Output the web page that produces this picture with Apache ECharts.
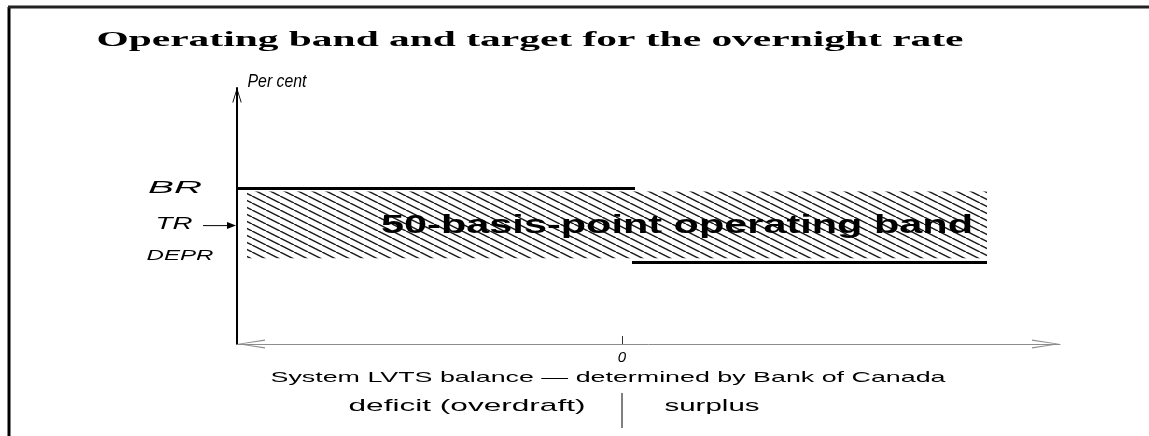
<!DOCTYPE html>
<html>
<head>
<meta charset="utf-8">
<script src="https://cdn.jsdelivr.net/npm/echarts@6/dist/echarts.min.js"></script>
<style>
  html, body { margin: 0; padding: 0; background: #fff; }
  #chart { width: 1149px; height: 436px; }
</style>
</head>
<body>
<div id="chart"></div>
<script>
// schematic values (per cent axis has no ticks, so only relative positions matter)
var xRange = [-3.85, 4.38];
var yRange = [0, 1.73];
var rateNames = ["BR", "TR", "DEPR"];
var rateValues = [1.05, 0.8, 0.55];
var bankRateLine = [[-3.85, 1.05], [0.13, 1.05]];
var depositRateLine = [[0.1, 0.55], [3.65, 0.55]];
var band = [[-3.75, 3.65, 0.58, 1.03]]; // x0, x1, low, high
var bandLabel = "50-basis-point operating band";
var bandLabelAt = [0.55, 0.8];

var SANS = '"Liberation Sans", Arial, sans-serif';
var SERIF = '"Liberation Serif", "Times New Roman", serif';
var ARROW = "path://M4.5,0 L9,28 L7.8,28 L4.5,5 L1.2,28 L0,28 Z";
var UP_ARROW = "path://M5,0 L10,16 L9,16 L5,3 L1,16 L0,16 Z";

// the original scan is stretched sideways, so texts are squeezed into their widths
var measureCtx = document.createElement("canvas").getContext("2d");
function stretch(text, font, width) {
  measureCtx.font = font;
  return width / measureCtx.measureText(text).width;
}

// hatch tile for the band
function hatchPattern() {
  var w = 14, h = 7;
  var c = document.createElement("canvas");
  c.width = w;
  c.height = h;
  var ctx = c.getContext("2d");
  ctx.strokeStyle = "#1a1a1a";
  ctx.lineWidth = 1.5;
  for (var k = -1; k <= 1; k++) {
    ctx.beginPath();
    ctx.moveTo(k * w, 0);
    ctx.lineTo(k * w + w, h);
    ctx.stroke();
  }
  return c;
}
var hatch = hatchPattern();

function textEl(text, font, cx, cy, width) {
  return {
    type: "text",
    x: cx,
    y: cy,
    scaleX: stretch(text, font, width),
    style: { text: text, font: font, fill: "#000", align: "center", verticalAlign: "middle" }
  };
}

var chart = echarts.init(document.getElementById("chart"));

var labelCfg = [
  { dx: -62, dy: 0, font: "italic 17px " + SANS, width: 54 },
  { dx: -63, dy: -1, font: "italic 17px " + SANS, width: 37 },
  { dx: -57, dy: -7, font: "italic 14px " + SANS, width: 67 }
];

var option = {
  animation: false,
  backgroundColor: "#fff",
  grid: { left: 237, right: 89, top: 88, bottom: 92 },
  xAxis: {
    type: "value",
    min: xRange[0],
    max: xRange[1],
    splitLine: { show: false },
    axisLine: {
      onZero: false,
      lineStyle: { color: "#8c8c8c", width: 1 },
      symbol: [ARROW, ARROW],
      symbolSize: [9, 28],
      symbolOffset: [14, -14]
    },
    axisTick: { customValues: [0], inside: true, length: 8, lineStyle: { color: "#333" } },
    axisLabel: {
      customValues: [0],
      formatter: function (v) { return v === 0 ? "0" : ""; },
      margin: 6,
      color: "#000",
      fontStyle: "italic",
      fontFamily: SANS,
      fontSize: 15
    }
  },
  yAxis: {
    type: "value",
    min: yRange[0],
    max: yRange[1],
    splitLine: { show: false },
    axisTick: { show: false },
    axisLabel: { show: false },
    axisLine: {
      show: true,
      onZero: false,
      lineStyle: { color: "#000", width: 2 },
      symbol: ["none", UP_ARROW],
      symbolSize: [10, 15],
      symbolOffset: [0, -7]
    }
  },
  series: [
    {
      type: "custom",
      name: "band",
      z: 1,
      silent: true,
      data: band,
      renderItem: function (params, api) {
        var p0 = api.coord([api.value(0), api.value(3)]);
        var p1 = api.coord([api.value(1), api.value(2)]);
        return {
          type: "rect",
          shape: { x: p0[0], y: p0[1], width: p1[0] - p0[0], height: p1[1] - p0[1] },
          style: { fill: { image: hatch, repeat: "repeat" }, stroke: null }
        };
      }
    },
    {
      type: "custom",
      name: "bandLabel",
      z: 3,
      silent: true,
      data: [bandLabelAt],
      renderItem: function (params, api) {
        var p = api.coord([api.value(0), api.value(1)]);
        return textEl(bandLabel, "bold 25px " + SANS, p[0], p[1], 592);
      }
    },
    {
      type: "line",
      name: "BR",
      z: 4,
      data: bankRateLine,
      symbol: "none",
      lineStyle: { color: "#000", width: 3 }
    },
    {
      type: "line",
      name: "DEPR",
      z: 4,
      data: depositRateLine,
      symbol: "none",
      lineStyle: { color: "#000", width: 3 }
    },
    {
      type: "custom",
      name: "rateLabels",
      z: 4,
      silent: true,
      clip: false,
      data: rateValues.map(function (v) { return [xRange[0], v]; }),
      renderItem: function (params, api) {
        var i = params.dataIndex;
        var cfg = labelCfg[i];
        var p = api.coord([api.value(0), api.value(1)]);
        var children = [textEl(rateNames[i], cfg.font, p[0] + cfg.dx, p[1] + cfg.dy, cfg.width)];
        if (rateNames[i] === "TR") {
          var y = p[1] + cfg.dy + 1;
          children.push({
            type: "line",
            shape: { x1: p[0] - 34, y1: y, x2: p[0] - 6, y2: y },
            style: { stroke: "#000", lineWidth: 1 }
          });
          children.push({
            type: "polygon",
            shape: { points: [[p[0] - 1, y], [p[0] - 10, y - 3.5], [p[0] - 10, y + 3.5]] },
            style: { fill: "#000" }
          });
        }
        return { type: "group", children: children };
      }
    }
  ],
  graphic: [
    textEl("Operating band and target for the overnight rate", "bold 22px " + SERIF, 530, 40, 867),
    textEl("Per cent", "italic 18px " + SANS, 277, 82, 59),
    textEl("System LVTS balance \u2014 determined by Bank of Canada", "15px " + SANS, 608, 378, 675),
    textEl("deficit (overdraft)", "17px " + SANS, 467, 406, 237),
    textEl("surplus", "17px " + SANS, 712, 406, 95),
    { type: "line", shape: { x1: 622, y1: 393, x2: 622, y2: 428 }, style: { stroke: "#000", lineWidth: 1 } },
    { type: "line", shape: { x1: 9, y1: 7, x2: 9, y2: 436 }, style: { stroke: "#000", lineWidth: 3 } },
    { type: "line", shape: { x1: 8, y1: 7, x2: 1149, y2: 7 }, style: { stroke: "#222", lineWidth: 3 } }
  ]
};

chart.setOption(option);
</script>
</body>
</html>
